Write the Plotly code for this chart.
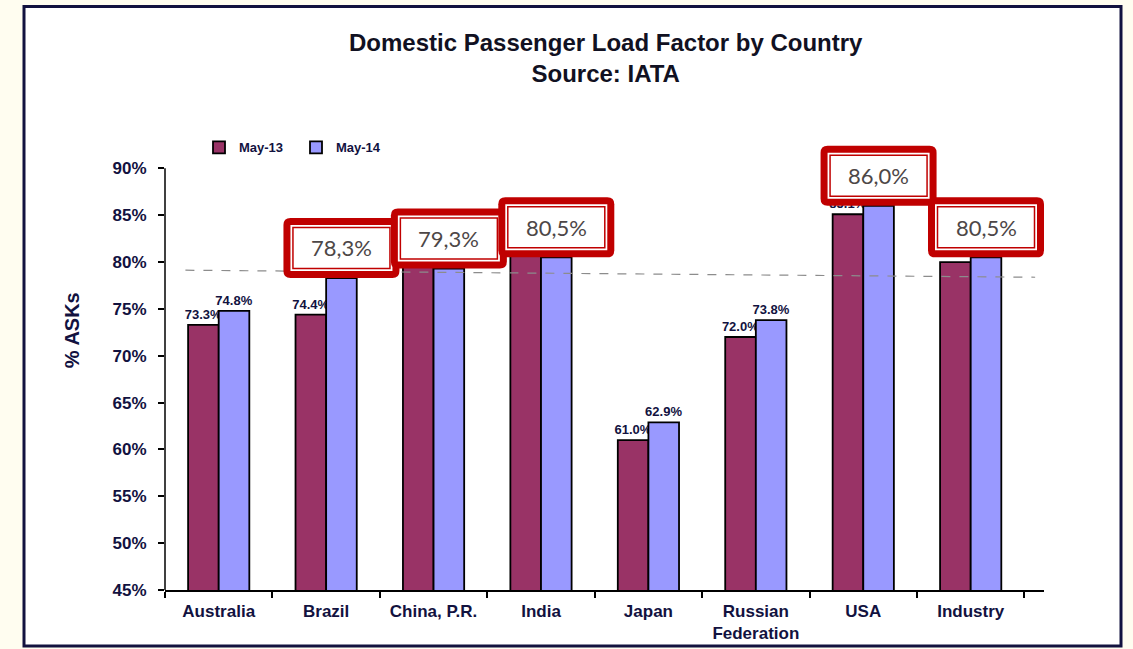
import plotly.graph_objects as go

# ---- data ----
countries = ["Australia", "Brazil", "China, P.R.", "India", "Japan",
             "Russian<br>Federation", "USA", "Industry"]
may13 = [73.3, 74.4, 80.2, 81.3, 61.0, 72.0, 85.1, 80.0]
may14 = [74.8, 78.3, 79.3, 80.5, 62.9, 73.8, 86.0, 80.5]
highlight_labels = ["", "78,3%", "79,3%", "80,5%", "", "", "86,0%", "80,5%"]
y_ticks = [45, 50, 55, 60, 65, 70, 75, 80, 85, 90]
y_tick_labels = ["45%", "50%", "55%", "60%", "65%", "70%", "75%", "80%", "85%", "90%"]
ref_line_y = (79.13, 78.38)   # hand-drawn dashed reference line (start, end)

# ---- layout geometry ----
W, H = 1133, 649
Y_MIN, Y_AXIS_TOP, Y_VIEW_TOP = 45, 90, 92.6
ML, MR, MB = 165, 89, 59
unit_px = (590 - 168) / (Y_AXIS_TOP - Y_MIN)
MT = (H - MB) - (Y_VIEW_TOP - Y_MIN) * unit_px
PW, PH = W - ML - MR, H - MT - MB


def px_x(p):  # figure pixel -> paper
    return (p - ML) / PW


def px_y(p):
    return (H - MB - p) / PH


NAVY = "#12123f"
C13 = "#993366"
C14 = "#9999ff"
RED = "#c00000"
FONT = "Liberation Sans"

fig = go.Figure()
for name, vals, col in (("May-13", may13, C13), ("May-14", may14, C14)):
    fig.add_trace(go.Bar(
        name=name, x=countries, y=vals,
        marker=dict(color=col, line=dict(color="black", width=1.8)),
        text=[f"{v:.1f}%" for v in vals], textposition="outside",
        textfont=dict(family=FONT, size=13, color=NAVY, weight="bold"),
        constraintext="none", cliponaxis=False,
    ))

bargap = 0.43
bar_w = (1 - bargap) / 2
off14 = bar_w / 2

shapes = []
# outer frame
shapes.append(dict(type="rect", xref="paper", yref="paper",
                   x0=px_x(24), x1=px_x(1121), y0=px_y(6), y1=px_y(646),
                   fillcolor="white", line=dict(color=NAVY, width=3), layer="below"))
# y axis line (only up to 90%)
shapes.append(dict(type="line", xref="paper", yref="y", x0=0, x1=0,
                   y0=Y_MIN, y1=Y_AXIS_TOP, line=dict(color="black", width=1.5),
                   layer="above"))
# dashed reference line
shapes.append(dict(type="line", xref="x", yref="y",
                   x0=-0.31, x1=len(countries) - 0.4, y0=ref_line_y[0], y1=ref_line_y[1],
                   line=dict(color="#8c8c8c", width=1.2, dash="dash"), layer="above"))


def rrect(x0, y0, x1, y1, r):
    return (f"M{x0+r},{y0} L{x1-r},{y0} Q{x1},{y0} {x1},{y0+r} "
            f"L{x1},{y1-r} Q{x1},{y1} {x1-r},{y1} L{x0+r},{y1} "
            f"Q{x0},{y1} {x0},{y1-r} L{x0},{y0+r} Q{x0},{y0} {x0+r},{y0} Z")


BW, BH = 116, 60
annotations = []
for i, lab in enumerate(highlight_labels):
    if not lab:
        continue
    common = dict(type="path", xref="x", yref="y", xsizemode="pixel", ysizemode="pixel",
                  xanchor=i + off14, yanchor=may14[i], layer="above")
    shapes.append(dict(path=rrect(-BW/2, 0, BW/2, BH, 7), fillcolor=RED,
                       line=dict(width=0), **common))
    shapes.append(dict(path=rrect(-BW/2 + 7, 7, BW/2 - 7, BH - 7, 0), fillcolor="white",
                       line=dict(width=0), **common))
    shapes.append(dict(path=rrect(-BW/2 + 9.5, 9.5, BW/2 - 9.5, BH - 9.5, 0), fillcolor="white",
                       line=dict(color=RED, width=1.5), **common))
    annotations.append(dict(x=i + off14, y=may14[i], xref="x", yref="y", yshift=BH/2,
                            text=lab, showarrow=False, xanchor="center", yanchor="middle",
                            font=dict(family="Lato", size=22, color="#4d4747")))

# title
annotations.append(dict(x=px_x(606), y=px_y(58), xref="paper", yref="paper",
                        text="Domestic Passenger Load Factor by Country<br>Source: IATA",
                        showarrow=False, xanchor="center", yanchor="middle",
                        font=dict(family=FONT, size=24, color="#111122", weight="bold")))
# y-axis title
annotations.append(dict(x=px_x(72), y=px_y(330), xref="paper", yref="paper",
                        text="% ASKs", textangle=-90, showarrow=False,
                        xanchor="center", yanchor="middle",
                        font=dict(family=FONT, size=20, color=NAVY, weight="bold")))

fig.update_layout(
    width=W, height=H, autosize=False,
    margin=dict(l=ML, r=MR, t=MT, b=MB, pad=0),
    paper_bgcolor="#fffdf0", plot_bgcolor="white",
    barmode="group", bargap=bargap, bargroupgap=0,
    showlegend=True,
    legend=dict(orientation="h", x=px_x(199), y=px_y(147), xanchor="left", yanchor="middle",
                xref="paper", yref="paper", entrywidth=52, entrywidthmode="pixels",
                font=dict(family=FONT, size=13, color=NAVY, weight="bold"),
                bgcolor="rgba(0,0,0,0)"),
    xaxis=dict(showline=True, linecolor="black", linewidth=1.5, ticks="outside",
               tickson="boundaries", ticklen=6, tickcolor="black", tickwidth=1.5,
               showgrid=False, zeroline=False, ticklabelstandoff=5, automargin=False,
               tickfont=dict(family=FONT, size=17, color=NAVY, weight="bold")),
    yaxis=dict(range=[Y_MIN, Y_VIEW_TOP], tickvals=y_ticks, ticktext=y_tick_labels,
               showline=False, ticks="outside", ticklabelstandoff=8, automargin=False,
               ticklen=6, tickcolor="black", tickwidth=1.5, showgrid=False, zeroline=False,
               tickfont=dict(family=FONT, size=17, color=NAVY, weight="bold")),
    shapes=shapes, annotations=annotations,
)

fig.write_html("out.html", config={"displayModeBar": False},
               post_script="document.body.style.margin='0';"
                           "document.body.style.overflow='hidden';")
